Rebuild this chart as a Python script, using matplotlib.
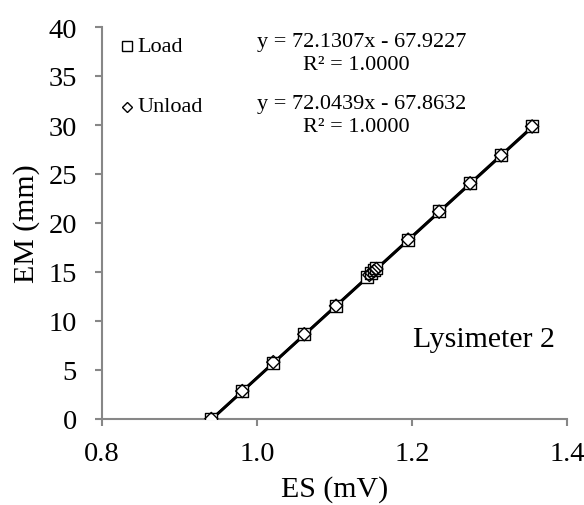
import matplotlib
matplotlib.use("Agg")
import matplotlib.pyplot as plt
from matplotlib.lines import Line2D

plt.rcParams['font.family'] = ['Liberation Serif', 'DejaVu Serif']

load_x = [0.941, 0.981, 1.021, 1.061, 1.102, 1.142, 1.147, 1.151, 1.154, 1.195, 1.235, 1.275, 1.315, 1.355]
load_y = [0.0, 2.85, 5.75, 8.65, 11.55, 14.5, 14.9, 15.2, 15.4, 18.3, 21.2, 24.1, 26.95, 29.85]
unload_x = [1.355, 1.315, 1.275, 1.235, 1.195, 1.154, 1.151, 1.148, 1.145, 1.102, 1.061, 1.021, 0.981, 0.941]
unload_y = [29.85, 26.9, 24.05, 21.15, 18.3, 15.3, 15.1, 14.9, 14.7, 11.55, 8.65, 5.8, 2.85, 0.0]

load_fit = (72.1307, -67.9227)
unload_fit = (72.0439, -67.8632)

xticks = [0.8, 1.0, 1.2, 1.4]
xticklabels = ['0.8', '1.0', '1.2', '1.4']
yticks = [0, 5, 10, 15, 20, 25, 30, 35, 40]

W, H = 584, 506
fig = plt.figure(figsize=(W/100, H/100), dpi=100)
ax = fig.add_axes([102/W, 1-420/H, (567-102)/W, (420-28)/H])

# trendlines
for (m, b), xs in ((load_fit, load_x), (unload_fit, unload_x)):
    x0, x1 = min(xs), max(xs)
    ax.plot([x0, x1], [m*x0+b, m*x1+b], color='black', lw=2.0, zorder=2)

ax.scatter(load_x, load_y, marker='s', s=70, facecolor='white', edgecolor='black', linewidths=1.0, zorder=3)
ax.scatter(unload_x, unload_y, marker='D', s=45, facecolor='none', edgecolor='black', linewidths=1.0, zorder=4)

ax.set_xlim(0.8, 1.4)
ax.set_ylim(0, 40)
ax.set_xticks(xticks)
ax.set_xticklabels(xticklabels)
ax.set_yticks(yticks)

for s in ['top', 'right']:
    ax.spines[s].set_visible(False)
for s in ['left', 'bottom']:
    ax.spines[s].set_color('#878787')
    ax.spines[s].set_linewidth(1.5)
ax.tick_params(axis='both', colors='#878787', width=1.5, length=5, labelsize=20.5, labelcolor='black')
ax.tick_params(axis='y', pad=13)
ax.tick_params(axis='x', pad=11)

ax.set_xlabel('ES (mV)', fontsize=21.5)
ax.set_ylabel('EM (mm)', fontsize=21.5)
ax.xaxis.set_label_coords(0.5, -0.143)
ax.yaxis.set_label_coords(-0.133, 0.5)

def px(xp, yp):
    return (xp/W, 1 - yp/H)

# legend entries
fig.add_artist(Line2D([127/W], [1-47/H], marker='s', ms=6.5, mfc='white', mec='black', mew=1.0,
                      linestyle='none', transform=fig.transFigure))
fig.text(*px(137, 47), 'Load', fontsize=16, va='center', ha='left')
fig.add_artist(Line2D([127/W], [1-108/H], marker='D', ms=5.5, mfc='white', mec='black', mew=1.0,
                      linestyle='none', transform=fig.transFigure))
fig.text(*px(137, 108), 'Unload', fontsize=16, va='center', ha='left')

fig.text(*px(362, 43), 'y = %.4fx - %.4f' % (load_fit[0], -load_fit[1]), fontsize=16, va='center', ha='center')
fig.text(*px(356, 66), 'R\u00b2 = 1.0000', fontsize=16, va='center', ha='center')
fig.text(*px(362, 105), 'y = %.4fx - %.4f' % (unload_fit[0], -unload_fit[1]), fontsize=16, va='center', ha='center')
fig.text(*px(356, 128), 'R\u00b2 = 1.0000', fontsize=16, va='center', ha='center')

fig.text(*px(484, 340), 'Lysimeter 2', fontsize=21.5, va='center', ha='center')

fig.savefig('out.png', dpi=100)
